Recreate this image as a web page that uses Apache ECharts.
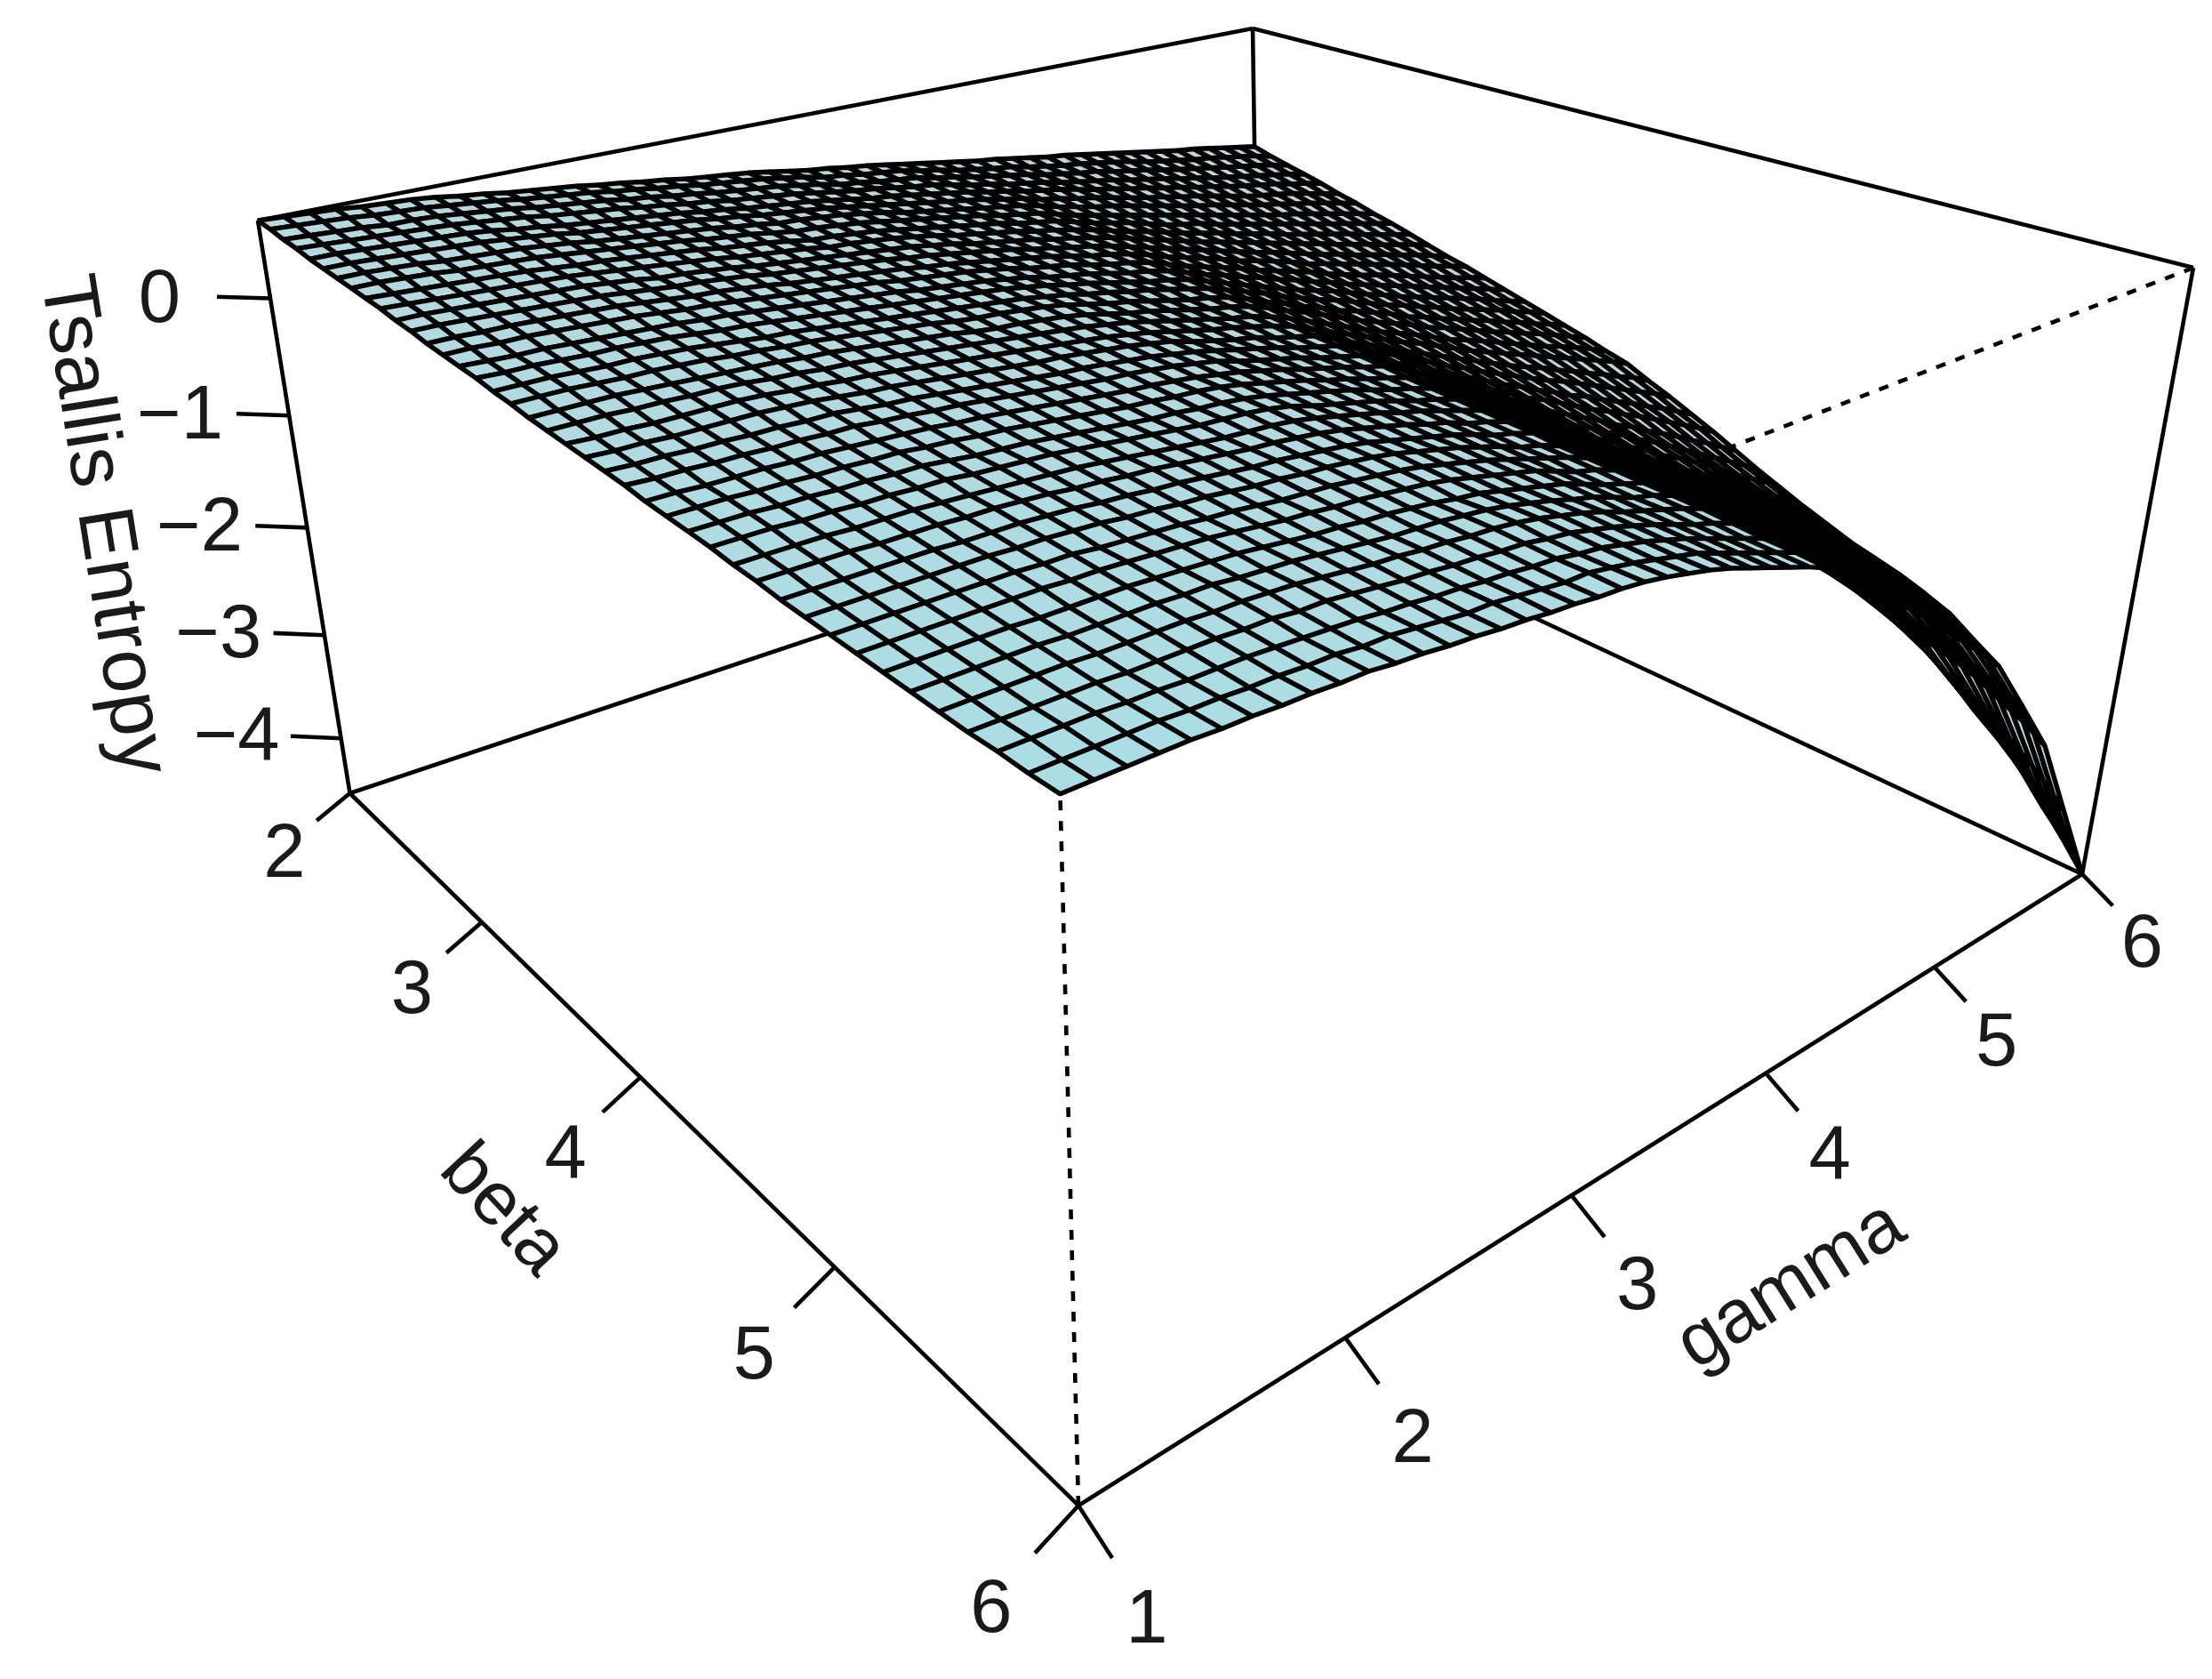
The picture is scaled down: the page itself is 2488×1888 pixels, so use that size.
<!DOCTYPE html>
<html>
<head>
<meta charset="utf-8">
<style>html,body{margin:0;padding:0;background:#fff}#main{width:2488px;height:1888px}</style>
<script src="https://cdn.jsdelivr.net/npm/echarts@6/dist/echarts.min.js"></script>
</head>
<body>
<div id="main"></div>
<script>
// ---- values ----
const betas = [2,2.1,2.2,2.3,2.4,2.5,2.6,2.7,2.8,2.9,3,3.1,3.2,3.3,3.4,3.5,3.6,3.7,3.8,3.9,4,4.1,4.2,4.3,4.4,4.5,4.6,4.7,4.8,4.9,5,5.1,5.2,5.3,5.4,5.5,5.6,5.7,5.8,5.9,6];
const gammas = [1,1.1,1.2,1.3,1.4,1.5,1.6,1.7,1.8,1.9,2,2.1,2.2,2.3,2.4,2.5,2.6,2.7,2.8,2.9,3,3.1,3.2,3.3,3.4,3.5,3.6,3.7,3.8,3.9,4,4.1,4.2,4.3,4.4,4.5,4.6,4.7,4.8,4.9,5,5.1,5.2,5.3,5.4,5.5,5.6,5.7,5.8,5.9,6];
// entropy in hundredths: one row per beta, one column per gamma
const entropyHundredths = [
[64,63,62,61,59,58,57,55,52,50,47,45,43,41,38,36,33,31,28,26,24,22,19,16,13,11,8,6,3,0,-3,-6,-9,-12,-14,-17,-20,-23,-25,-28,-31,-34,-37,-40,-43,-46,-48,-51,-54,-57,-60],
[63,62,61,60,58,57,56,54,52,50,47,45,43,41,38,36,33,31,28,26,24,22,19,16,12,10,7,5,3,-1,-4,-8,-11,-14,-16,-20,-23,-26,-28,-31,-34,-37,-41,-44,-47,-50,-52,-55,-58,-61,-65],
[61,60,59,58,56,56,55,53,51,49,46,44,42,40,37,35,32,30,27,25,23,21,18,15,11,9,6,4,2,-2,-5,-9,-12,-15,-18,-22,-25,-28,-30,-34,-37,-40,-44,-47,-50,-53,-56,-59,-62,-65,-69],
[60,59,58,57,56,55,54,52,50,48,45,43,41,39,36,34,31,29,26,24,22,20,17,14,11,9,6,3,1,-3,-7,-10,-14,-17,-20,-24,-27,-30,-33,-37,-40,-43,-47,-50,-54,-57,-60,-63,-66,-69,-73],
[58,58,57,56,55,54,53,51,48,46,43,41,39,37,35,33,30,28,25,23,21,19,16,13,10,8,5,2,-1,-4,-8,-11,-15,-18,-21,-25,-29,-32,-36,-39,-43,-46,-50,-53,-57,-60,-63,-66,-70,-73,-77],
[57,57,56,55,54,53,52,50,48,46,43,41,39,37,35,33,30,28,25,23,21,19,16,13,10,7,4,1,-2,-5,-9,-12,-17,-20,-24,-27,-31,-35,-39,-42,-46,-49,-53,-57,-61,-64,-67,-70,-74,-78,-82],
[56,56,55,54,52,51,50,49,47,45,42,40,38,36,34,32,29,27,24,23,21,19,16,13,9,6,3,0,-3,-6,-9,-13,-18,-22,-26,-29,-33,-37,-41,-45,-49,-52,-56,-60,-64,-67,-71,-74,-78,-82,-86],
[55,55,54,53,51,50,49,48,46,44,42,40,38,36,33,31,29,26,23,22,20,18,15,12,9,6,3,0,-4,-7,-10,-15,-20,-24,-28,-32,-36,-40,-44,-48,-52,-56,-60,-64,-68,-71,-75,-79,-83,-87,-91],
[54,53,52,51,50,49,48,46,44,43,41,39,37,35,32,30,28,25,22,21,19,17,14,11,8,5,2,-1,-5,-8,-11,-16,-21,-25,-29,-34,-39,-43,-46,-51,-55,-59,-63,-67,-71,-75,-79,-83,-87,-91,-95],
[53,52,51,50,49,48,47,46,44,42,40,38,36,34,31,29,27,25,22,21,19,17,14,11,7,4,1,-2,-6,-9,-13,-17,-22,-27,-31,-36,-41,-45,-49,-54,-58,-62,-67,-71,-75,-79,-83,-88,-92,-96,-100],
[51,51,50,49,48,47,46,45,43,41,38,37,35,33,30,28,26,24,22,20,18,16,13,10,6,3,0,-3,-7,-10,-14,-18,-23,-28,-33,-38,-43,-47,-52,-56,-61,-65,-70,-74,-79,-83,-87,-92,-96,-100,-105],
[50,50,49,48,47,46,45,44,42,40,38,37,35,33,30,28,26,24,22,20,17,15,12,9,6,3,-1,-4,-8,-11,-15,-20,-25,-30,-35,-40,-45,-50,-55,-59,-64,-69,-74,-78,-83,-87,-91,-96,-100,-105,-110],
[48,48,47,47,46,45,44,43,41,39,37,36,34,32,29,27,25,23,21,19,16,14,11,8,5,2,-1,-5,-9,-12,-16,-21,-27,-32,-37,-42,-48,-52,-57,-62,-68,-72,-77,-81,-86,-90,-95,-100,-105,-109,-114],
[47,47,46,46,45,44,43,42,40,38,37,35,33,31,29,27,25,23,20,18,16,14,11,8,4,1,-2,-6,-10,-13,-17,-23,-29,-34,-39,-44,-50,-55,-60,-65,-71,-76,-81,-85,-90,-95,-100,-105,-110,-114,-119],
[46,45,44,44,43,42,41,40,39,37,36,34,32,30,28,26,24,22,19,17,15,13,10,7,3,0,-3,-7,-11,-14,-18,-24,-30,-35,-41,-46,-52,-57,-63,-68,-74,-79,-84,-89,-94,-99,-104,-109,-114,-119,-124],
[45,44,44,43,42,42,41,40,38,36,35,33,31,29,27,25,23,21,19,17,15,13,10,7,3,0,-4,-8,-12,-15,-19,-25,-31,-37,-43,-49,-55,-60,-65,-71,-77,-82,-88,-93,-98,-103,-108,-113,-119,-124,-129],
[43,43,43,42,41,41,40,39,37,35,33,32,30,28,26,24,22,20,18,16,14,12,9,6,2,-1,-5,-8,-12,-16,-20,-26,-32,-38,-45,-51,-57,-62,-68,-74,-80,-85,-91,-96,-102,-107,-112,-117,-123,-128,-134],
[42,42,42,41,40,40,39,38,36,35,33,32,30,28,26,24,22,19,17,16,14,12,9,5,1,-2,-6,-10,-14,-17,-21,-27,-34,-40,-47,-53,-60,-65,-71,-77,-84,-89,-95,-100,-106,-111,-117,-122,-128,-133,-139],
[40,40,40,40,39,38,37,36,35,34,32,31,29,27,25,23,21,18,16,15,13,11,8,4,0,-3,-7,-11,-15,-18,-22,-28,-35,-41,-48,-55,-62,-68,-74,-80,-87,-92,-98,-104,-110,-115,-121,-126,-132,-138,-144],
[39,39,39,38,38,37,37,36,34,33,31,30,28,26,24,22,20,18,16,14,12,10,7,4,0,-4,-8,-12,-16,-19,-24,-30,-37,-44,-51,-58,-65,-71,-77,-84,-91,-96,-102,-108,-114,-120,-126,-131,-137,-143,-150],
[38,37,37,36,36,36,36,35,33,32,30,29,27,25,23,21,19,17,15,13,11,9,6,3,-1,-5,-9,-12,-16,-20,-25,-32,-39,-46,-53,-60,-67,-73,-80,-87,-94,-100,-106,-112,-118,-124,-130,-136,-142,-148,-155],
[37,36,36,35,35,35,35,34,33,31,29,28,26,24,22,20,18,16,15,13,11,9,6,3,-2,-6,-10,-13,-18,-22,-26,-33,-41,-48,-55,-63,-70,-77,-84,-91,-98,-105,-111,-117,-124,-130,-137,-143,-150,-156,-164],
[36,35,35,34,34,33,33,32,32,30,28,27,25,23,21,19,17,15,14,12,10,8,5,2,-2,-6,-10,-14,-19,-23,-27,-34,-42,-49,-57,-65,-73,-80,-88,-95,-102,-109,-116,-122,-129,-136,-143,-150,-157,-164,-172],
[35,34,34,33,33,32,32,31,31,29,28,26,25,23,21,19,17,15,13,12,10,8,5,2,-3,-7,-11,-15,-20,-24,-28,-36,-44,-51,-60,-68,-76,-84,-92,-99,-107,-114,-122,-128,-136,-143,-150,-158,-165,-173,-181],
[33,33,32,32,32,31,31,30,29,28,27,25,24,22,20,18,16,14,12,11,9,7,4,1,-3,-7,-12,-16,-20,-25,-29,-37,-45,-53,-62,-70,-79,-87,-96,-103,-111,-119,-127,-134,-142,-149,-157,-165,-173,-181,-190],
[32,32,32,31,31,30,30,29,29,27,26,24,23,21,19,17,15,13,12,10,9,7,4,0,-4,-8,-13,-17,-22,-26,-31,-39,-47,-55,-64,-73,-82,-91,-100,-108,-116,-124,-133,-140,-149,-157,-165,-174,-182,-191,-200],
[31,31,31,30,30,29,29,28,28,26,24,23,22,20,18,16,14,12,11,9,8,6,3,-1,-5,-9,-13,-18,-23,-27,-32,-40,-48,-57,-66,-75,-85,-94,-104,-112,-121,-129,-138,-146,-155,-164,-173,-182,-191,-200,-210],
[30,30,30,29,29,28,28,27,27,25,24,23,22,20,18,16,14,12,10,9,8,6,3,-2,-6,-10,-14,-19,-24,-28,-33,-42,-50,-60,-69,-78,-88,-98,-108,-116,-126,-134,-144,-152,-161,-170,-180,-190,-199,-208,-219],
[28,28,28,28,27,27,27,26,25,24,23,22,21,19,17,15,13,11,9,8,7,5,2,-2,-6,-10,-15,-19,-24,-29,-34,-43,-52,-62,-72,-81,-91,-101,-111,-120,-130,-139,-149,-158,-167,-177,-187,-197,-207,-217,-228],
[27,27,27,27,26,26,26,25,25,24,23,21,20,18,17,15,13,11,9,8,6,4,1,-3,-7,-11,-16,-20,-26,-30,-35,-44,-54,-64,-74,-83,-94,-104,-115,-124,-134,-143,-153,-162,-172,-182,-194,-204,-214,-224,-236],
[25,25,25,25,25,25,24,24,24,23,22,20,19,17,16,14,12,10,9,7,5,3,0,-4,-8,-12,-16,-21,-27,-31,-36,-45,-55,-65,-75,-85,-96,-107,-118,-128,-138,-147,-157,-167,-177,-188,-200,-210,-221,-232,-244],
[24,24,24,24,24,24,24,23,23,22,21,19,18,16,15,13,11,10,8,7,5,3,0,-4,-8,-12,-17,-22,-28,-32,-38,-46,-56,-67,-78,-88,-98,-110,-120,-130,-141,-150,-160,-171,-182,-192,-204,-215,-226,-238,-250],
[23,23,23,23,23,23,23,22,22,20,19,18,17,15,14,12,10,9,8,6,4,2,-1,-5,-9,-13,-18,-23,-28,-33,-39,-48,-58,-69,-80,-90,-101,-112,-123,-133,-144,-154,-164,-175,-186,-197,-208,-220,-232,-244,-256],
[22,22,22,22,22,22,22,21,21,20,19,18,17,15,13,11,10,8,7,5,3,1,-2,-6,-10,-14,-18,-24,-30,-34,-40,-50,-60,-70,-82,-92,-104,-115,-126,-137,-148,-158,-169,-180,-191,-203,-215,-227,-239,-252,-264],
[21,21,21,21,21,20,20,20,20,19,18,17,16,14,12,10,9,7,6,4,2,-1,-3,-7,-11,-15,-19,-25,-31,-36,-41,-51,-61,-72,-83,-95,-107,-118,-130,-141,-152,-163,-174,-185,-196,-209,-222,-234,-246,-259,-273],
[20,20,20,20,20,19,19,19,19,18,18,16,15,14,12,10,8,6,5,4,2,0,-3,-7,-11,-16,-20,-26,-32,-36,-42,-52,-64,-75,-87,-98,-110,-122,-135,-147,-159,-170,-182,-194,-206,-220,-233,-246,-259,-273,-288],
[19,19,19,19,19,18,18,18,18,17,17,16,15,13,11,9,8,6,5,3,2,0,-3,-7,-11,-16,-22,-27,-32,-37,-43,-54,-66,-78,-91,-102,-114,-127,-140,-153,-166,-178,-191,-203,-216,-230,-244,-258,-272,-287,-302],
[18,18,18,18,18,17,17,17,17,16,16,14,14,12,10,8,7,5,4,2,1,-2,-4,-8,-12,-17,-22,-28,-34,-39,-45,-56,-68,-81,-94,-107,-120,-134,-148,-162,-177,-190,-204,-218,-232,-248,-264,-279,-294,-312,-328],
[18,18,18,18,17,17,16,16,16,15,14,13,12,10,9,7,6,4,3,1,0,-3,-5,-9,-13,-18,-23,-29,-35,-41,-47,-59,-71,-84,-98,-112,-126,-141,-156,-172,-188,-202,-217,-232,-248,-265,-283,-300,-317,-336,-355],
[17,17,17,17,17,16,16,15,15,14,14,12,12,10,8,6,6,4,2,0,0,-3,-6,-10,-14,-18,-24,-30,-36,-42,-48,-61,-74,-88,-104,-120,-136,-153,-170,-189,-208,-224,-242,-260,-279,-300,-320,-340,-361,-383,-405],
[17,17,17,17,17,16,16,15,15,14,14,12,11,9,8,6,5,3,2,0,-1,-3,-6,-10,-14,-19,-25,-31,-37,-43,-50,-63,-77,-93,-110,-127,-145,-165,-185,-206,-227,-247,-267,-288,-310,-334,-358,-381,-405,-430,-455]
];
const betaTicks = [2,3,4,5,6];
const gammaTicks = [1,2,3,4,5,6];
const zTicks = [0,-1,-2,-3,-4];
const zLabels = ['0','\u22121','\u22122','\u22123','\u22124'];
const betaRange = [2,6], gammaRange = [1,6], zRange = [-4.55,0.64];
const betaTitle = 'beta', gammaTitle = 'gamma', zTitle = 'Tsallis Entropy';

// ---- view: homogeneous maps of the box floor and lid onto the chart's plane ----
const floorView = [[410.7,1444.7,393.5],[230.4,-178.5,892],[-0.33701,0.29728,1]];
const lidView = [[436.6,1570.8,290],[238.1,-205.7,248],[-0.38938,0.32064,1]];
const lidWeight = 0.895;
const tickSize = 0.03;

function viewNorm(u,v,w){
  const h=[0,1,2].map(r=>(1-w)*(floorView[r][0]*u+floorView[r][1]*v+floorView[r][2])
                         +w*lidWeight*(lidView[r][0]*u+lidView[r][1]*v+lidView[r][2]));
  return [h[0]/h[2],h[1]/h[2]];
}
const normB=b=>(b-betaRange[0])/(betaRange[1]-betaRange[0]);
const normG=g=>(g-gammaRange[0])/(gammaRange[1]-gammaRange[0]);
const normZ=z=>(z-zRange[0])/(zRange[1]-zRange[0]);

// ---- marks ----
const cells=[];
for(let i=0;i<betas.length-1;i++) for(let j=gammas.length-2;j>=0;j--) cells.push([i,j]);

// box edges as [u,v,w, u,v,w]
const solidEdges=[[0,0,0,0,1,0],[0,1,0,1,1,0],[0,1,0,0,1,1],[0,0,1,0,1,1],[0,1,1,1,1,1],[0,0,0,0,0,1],[1,1,0,1,1,1],[0,0,0,1,0,0],[1,0,0,1,1,0]];
const dashedEdges=[[1,0,0,1,0,1],[1,1,1,1,0,1],[0,0,1,1,0,1]];

const tickEdges=[];
const axisTexts=[];
betaTicks.forEach(b=>{const u=normB(b);
  tickEdges.push([u,0,0,u,-tickSize,-tickSize]);
  axisTexts.push([u,-2*tickSize,-2.5*tickSize,String(b),0,85]);});
gammaTicks.forEach(g=>{const v=normG(g);
  tickEdges.push([1,v,0,1+tickSize,v,-tickSize]);
  axisTexts.push([1+2*tickSize,v,-2.5*tickSize,String(g),0,85]);});
zTicks.forEach((z,k)=>{const w=normZ(z);
  tickEdges.push([0,0,w,-tickSize,-tickSize,w]);
  axisTexts.push([-2.1*tickSize,-2.1*tickSize,w-0.01,zLabels[k],0,85]);});
axisTexts.push([0.5,-3.6*tickSize,-3.9*tickSize,betaTitle,-47,85]);
axisTexts.push([1+3.6*tickSize,0.5,-4.1*tickSize,gammaTitle,32,85]);
axisTexts.push([-4*tickSize,-4*tickSize,normZ(-2.05),zTitle,-81,88]);

const inkColor='#000';
const fillNear=[172,221,228], fillFar=[198,210,217];
const meshWidth=5.4, boxWidth=4.6;

function edgeSeries(data,dash){
  return {type:'custom',coordinateSystem:'cartesian2d',clip:false,silent:true,animation:false,
    data:data,
    renderItem(params,api){
      const a=api.coord(viewNorm(api.value(0),api.value(1),api.value(2)));
      const b=api.coord(viewNorm(api.value(3),api.value(4),api.value(5)));
      return {type:'line',shape:{x1:a[0],y1:a[1],x2:b[0],y2:b[1]},
        style:{stroke:inkColor,lineWidth:boxWidth,lineDash:dash||null,lineCap:'butt'}};
    }};
}

const surfaceSeries={type:'custom',coordinateSystem:'cartesian2d',clip:false,silent:true,animation:false,
  data:cells,
  renderItem(params,api){
    const i=api.value(0), j=api.value(1);
    const pts=[[i,j],[i+1,j],[i+1,j+1],[i,j+1]].map(n=>
      api.coord(viewNorm(normB(betas[n[0]]),normG(gammas[n[1]]),normZ(entropyHundredths[n[0]][n[1]]/100))));
    const t=((i/(betas.length-2))+1-(j/(gammas.length-2)))/2;
    const c=fillNear.map((n,k)=>Math.round(fillFar[k]+(n-fillFar[k])*t));
    return {type:'polygon',shape:{points:pts},
      style:{fill:'rgb('+c.join(',')+')',stroke:inkColor,lineWidth:meshWidth,lineJoin:'bevel'}};
  }};

const textSeries={type:'custom',coordinateSystem:'cartesian2d',clip:false,silent:true,animation:false,
  data:axisTexts.map((t,k)=>[t[0],t[1],t[2],k]),
  renderItem(params,api){
    const p=api.coord(viewNorm(api.value(0),api.value(1),api.value(2)));
    const t=axisTexts[api.value(3)];
    return {type:'text',x:p[0],y:p[1],rotation:t[4]*Math.PI/180,
      style:{text:t[3],fontFamily:'"Liberation Sans",Arial,sans-serif',fontSize:t[5],fill:'#1a1a1a',
        align:'center',verticalAlign:'middle'}};
  }};

const chart=echarts.init(document.getElementById('main'),null,{renderer:'canvas'});
chart.setOption({
  backgroundColor:'#fff',animation:false,
  grid:{left:0,right:0,top:0,bottom:0},
  xAxis:{type:'value',min:0,max:2488,show:false},
  yAxis:{type:'value',min:0,max:1888,inverse:true,show:false},
  series:[edgeSeries(dashedEdges,[11,12]),edgeSeries(solidEdges),edgeSeries(tickEdges),surfaceSeries,textSeries]
});
</script>
</body>
</html>
